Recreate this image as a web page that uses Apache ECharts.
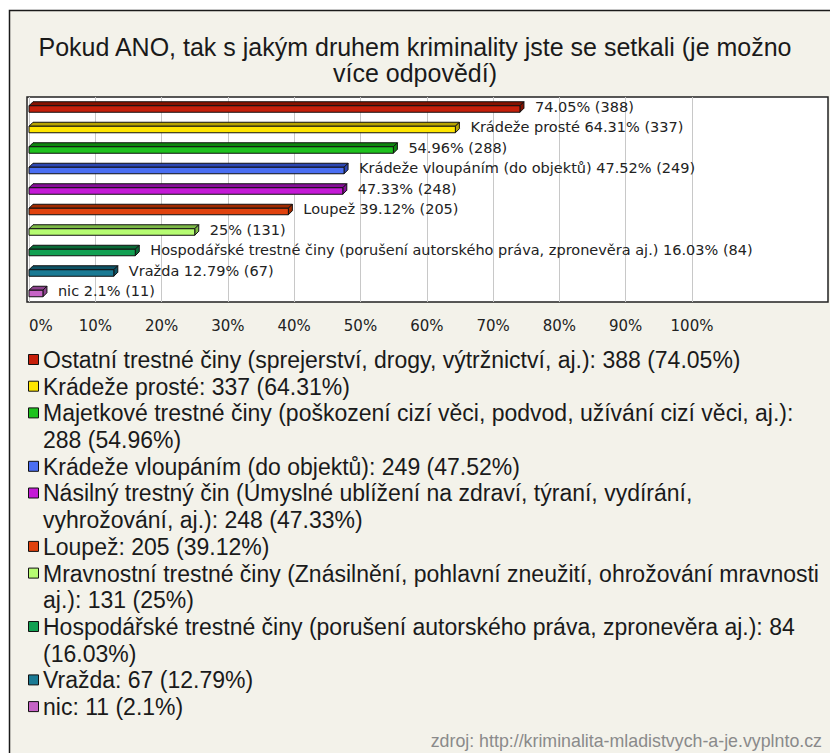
<!DOCTYPE html>
<html><head><meta charset="utf-8">
<script src="https://cdn.jsdelivr.net/npm/echarts@6/dist/echarts.min.js"></script>
<style>html,body{margin:0;padding:0;background:#fff}#c{width:830px;height:753px}</style>
</head><body><div id="c"></div>
<script>
// ---- data ----
const titleText = 'Pokud ANO, tak s jakým druhem kriminality jste se setkali (je možno\nvíce odpovědí)';
const categories = [
  'Ostatní trestné činy (sprejerství, drogy, výtržnictví, aj.)',
  'Krádeže prosté',
  'Majetkové trestné činy (poškození cizí věci, podvod, užívání cizí věci, aj.)',
  'Krádeže vloupáním (do objektů)',
  'Násilný trestný čin (Úmyslné ublížení na zdraví, týraní, vydírání, vyhrožování, aj.)',
  'Loupež',
  'Mravnostní trestné činy (Znásilnění, pohlavní zneužití, ohrožování mravnosti aj.)',
  'Hospodářské trestné činy (porušení autorského práva, zpronevěra aj.)',
  'Vražda',
  'nic'
];
const counts = [388, 337, 288, 249, 248, 205, 131, 84, 67, 11];
const percents = [74.05, 64.31, 54.96, 47.52, 47.33, 39.12, 25, 16.03, 12.79, 2.1];
const nameInBarLabel = [false, true, false, true, false, true, false, true, true, true];
const legendBreakAfter = [null, null, 'aj.):', null, 'vydírání,', null, 'mravnosti', ': 84', null, null];
const barColors = ['#c61f0a', '#ffe600', '#1ec21e', '#4a6ef2', '#c41ad6', '#e0420e', '#b6fc72', '#12a052', '#1a7a94', '#c664c6'];
const barTopColors = ['#861200', '#b8a400', '#0e860e', '#2c46b0', '#860e98', '#a02a00', '#7cb846', '#0a6a36', '#0e5264', '#8c428c'];
const xTickValues = [0, 10, 20, 30, 40, 50, 60, 70, 80, 90, 100];
const sourceText = 'zdroj: http://kriminalita-mladistvych-a-je.vyplnto.cz';

// ---- derived ----
const barLabels = categories.map((n, i) => (nameInBarLabel[i] ? n + ' ' : '') + percents[i] + '% (' + counts[i] + ')');
const legendTexts = categories.map((n, i) => {
  let t = n + ': ' + counts[i] + ' (' + percents[i] + '%)';
  const b = legendBreakAfter[i];
  if (b) t = t.replace(b + ' ', b + '\n');
  return t;
});

const chart = echarts.init(document.getElementById('c'), null, {renderer: 'svg'});

const LEG_TOP = 360, LEG_LH = 26.7;
const graphics = [{
  type: 'rect', z: -10, silent: true,
  shape: {x: 9.5, y: 10.5, width: 840, height: 760},
  style: {fill: '#f3f2ea', stroke: '#1a1a1a', lineWidth: 1.5}
}];
let line = 0;
legendTexts.forEach((t, i) => {
  const yc = LEG_TOP + line * LEG_LH;
  graphics.push({type: 'rect', z: 5, shape: {x: 28.5, y: yc - 5.5, width: 10, height: 10},
    style: {fill: barColors[i], stroke: '#111', lineWidth: 1}});
  graphics.push({type: 'text', z: 5, x: 43, y: yc - LEG_LH / 2,
    style: {text: t, fill: '#1a1a1a', font: '23px "Liberation Sans", Arial, sans-serif',
      lineHeight: LEG_LH, verticalAlign: 'top', align: 'left'}});
  line += t.split('\n').length;
});
graphics.push({type: 'text', z: 5, x: 822, y: 741,
  style: {text: sourceText, fill: '#8a8a8a', font: '17.8px "Liberation Sans", Arial, sans-serif',
    align: 'right', verticalAlign: 'middle'}});

const MIN_BAR = 13, D = 4;
const option = {
  animation: false,
  title: {
    text: titleText, left: 'center', top: 34, padding: 0,
    textStyle: {fontFamily: '"Liberation Sans", Arial, sans-serif', fontSize: 25, fontWeight: 'normal', color: '#1a1a1a', lineHeight: 26}
  },
  grid: [
    {left: 29, width: 663, top: 97, height: 205, outerBoundsMode: 'none', containLabel: false},
    {left: 27, right: 2, top: 97, height: 205, show: true, backgroundColor: '#ffffff',
      borderColor: '#222', borderWidth: 1.5, z: -5, outerBoundsMode: 'none', containLabel: false}
  ],
  xAxis: [
    {type: 'value', gridIndex: 0, min: xTickValues[0], max: xTickValues[xTickValues.length - 1], interval: xTickValues[1] - xTickValues[0],
      axisLine: {show: false}, axisTick: {show: false},
      splitLine: {show: true, lineStyle: {color: '#c8c8c8', width: 1}},
      axisLabel: {formatter: '{value}%', fontFamily: '"DejaVu Sans", sans-serif', fontSize: 15, color: '#222', margin: 16, alignMinLabel: 'left'}},
    {type: 'value', gridIndex: 1, show: false, min: 0, max: 1}
  ],
  yAxis: [
    {type: 'category', gridIndex: 0, data: categories, inverse: true, show: false},
    {type: 'value', gridIndex: 1, show: false, min: 0, max: 1}
  ],
  series: [{
    type: 'custom', xAxisIndex: 0, yAxisIndex: 0, z: 3,
    encode: {x: 0, y: 1},
    data: percents.map((v, i) => [v, i]),
    renderItem: function (params, api) {
      const i = params.dataIndex;
      const p0 = api.coord([0, i]);
      const p1 = api.coord([api.value(0), i]);
      const x0 = p0[0], yc = p0[1];
      let x1 = p1[0];
      if (x1 - x0 < MIN_BAR) x1 = x0 + MIN_BAR;
      const top = yc - 1.5, bot = yc + 5;
      const stroke = '#111';
      return {type: 'group', children: [
        {type: 'polygon', shape: {points: [[x0, top], [x0 + D, top - D], [x1 + D, top - D], [x1, top]]},
          style: {fill: barTopColors[i], stroke: stroke, lineWidth: 1}},
        {type: 'polygon', shape: {points: [[x1, top], [x1 + D, top - D], [x1 + D, bot - D], [x1, bot]]},
          style: {fill: barTopColors[i], stroke: stroke, lineWidth: 1}},
        {type: 'rect', shape: {x: x0, y: top, width: x1 - x0, height: bot - top},
          style: {fill: barColors[i], stroke: stroke, lineWidth: 1}},
        {type: 'text', x: x1 + 15, y: yc - 0.5,
          style: {text: barLabels[i], fill: '#222', font: '14.5px "DejaVu Sans", sans-serif', verticalAlign: 'middle', align: 'left'}}
      ]};
    }
  }],
  graphic: graphics
};
chart.setOption(option);
</script>
</body></html>
